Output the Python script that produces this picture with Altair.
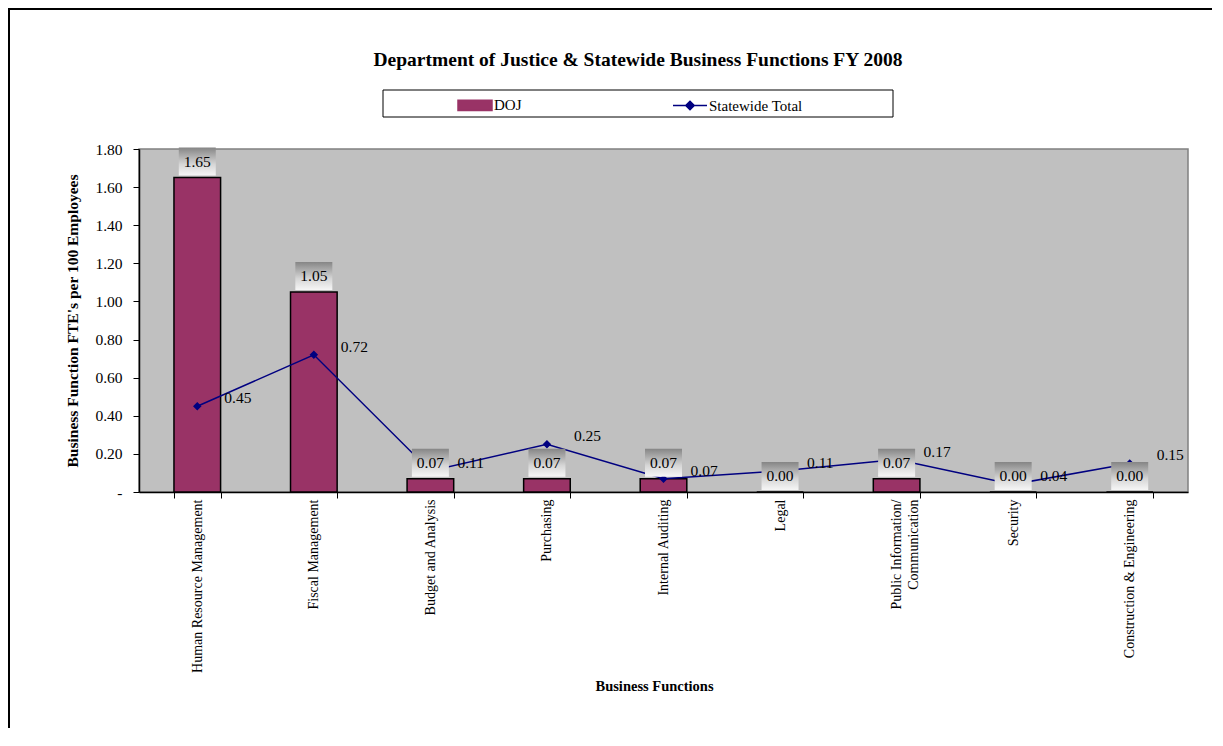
import altair as alt
import pandas as pd

categories = [
    "Human Resource Management",
    "Fiscal Management",
    "Budget and Analysis",
    "Purchasing",
    "Internal Auditing",
    "Legal",
    "Public Information/ Communication",
    "Security",
    "Construction & Engineering",
]
doj_values = [1.65, 1.05, 0.07, 0.07, 0.07, 0.00, 0.07, 0.00, 0.00]
statewide_values = [0.45, 0.72, 0.11, 0.25, 0.07, 0.11, 0.17, 0.04, 0.15]
series_names = ["DOJ", "Statewide Total"]
series_colors = ["#993366", "#000080"]
y_ticks = [0.0, 0.2, 0.4, 0.6, 0.8, 1.0, 1.2, 1.4, 1.6, 1.8]

title_text = "Department of Justice & Statewide Business Functions FY 2008"
FONT = "Liberation Serif"

doj_df = pd.DataFrame({"category": categories, "value": doj_values, "series": "DOJ"})
sw_df = pd.DataFrame({"category": categories, "value": statewide_values, "series": "Statewide Total"})
one = pd.DataFrame({"k": [0]})

W, H = 1049, 343

x_axis = alt.Axis(
    title="Business Functions",
    titleFont=FONT, titleFontSize=14.5, titleFontWeight="bold", titleColor="black",
    titleY=194, titleBaseline="middle", titleX=515,
    labelAngle=-90, labelFont=FONT, labelFontSize=14, labelColor="black",
    labelPadding=1, labelLimit=300, labelLineHeight=17, labelOverlap=False,
    labelExpr="datum.label == 'Public Information/ Communication' ? ['Public Information/', 'Communication'] : datum.label",
    tickBand="extent", tickColor="black", tickSize=6,
    domainColor="black", domainWidth=1.5,
)
x_scale = alt.Scale(paddingInner=0.6, paddingOuter=0.3)

y_scale = alt.Scale(domain=[0, 1.8], nice=False, zero=True)
y_axis = alt.Axis(
    title="Business Function FTE's per 100 Employees",
    titleFont=FONT, titleFontSize=15.5, titleFontWeight="bold", titleColor="black",
    titlePadding=14,
    values=y_ticks, tickCount=10, grid=False, labelOverlap=False,
    labelExpr="datum.value == 0 ? '-\u00a0\u00a0\u00a0\u00a0\u00a0\u00a0' : format(datum.value, '.2f')",
    labelFont=FONT, labelFontSize=15.5, labelColor="black", labelPadding=11,
    tickColor="black", tickSize=6, domainColor="black", domainWidth=1.5,
)


def X():
    return alt.X("category:N", sort=categories, scale=x_scale, axis=x_axis)


def Y():
    return alt.Y("value:Q", scale=y_scale, axis=y_axis)


color_scale = alt.Scale(domain=series_names, range=series_colors)
shape_scale = alt.Scale(
    domain=series_names,
    range=["M-1,-0.3H1V0.3H-1Z", "M-1,0H1M0,-0.25L0.25,0L0,0.25L-0.25,0Z"],
)

legend = alt.Legend(
    title=None, orient="none", legendX=318, legendY=-62, direction="horizontal",
    labelFont=FONT, labelFontSize=15, labelColor="black", labelOffset=1,
    symbolSize=1156, columnPadding=148, padding=0,
    symbolStrokeWidth=1.5,
)

border = alt.Chart(one).mark_rect(fill=None, stroke="black", strokeWidth=2).encode(
    x=alt.value(-130), x2=alt.value(1200), y=alt.value(-140), y2=alt.value(700)
)
legend_box = alt.Chart(one).mark_rect(fill="white", stroke="black", strokeWidth=1).encode(
    x=alt.value(244), x2=alt.value(754), y=alt.value(-59), y2=alt.value(-32)
)
title_mark = alt.Chart(one).mark_text(
    text=title_text, font=FONT, fontSize=19.5, fontWeight="bold", color="black",
    align="center", baseline="middle",
).encode(x=alt.value(499), y=alt.value(-89))

bars = alt.Chart(doj_df).mark_bar(stroke="black", strokeWidth=1.5).encode(
    x=X(),
    y=Y(),
    color=alt.Color("series:N", scale=color_scale, legend=legend),
)

line = alt.Chart(sw_df).mark_line(strokeWidth=1.5).encode(
    x=X(),
    y=Y(),
    color=alt.Color("series:N", scale=color_scale, legend=legend),
)

points = alt.Chart(sw_df).mark_point(filled=True, size=1156, opacity=1, strokeWidth=0).encode(
    x=X(),
    y=Y(),
    color=alt.Color("series:N", scale=color_scale, legend=legend),
    shape=alt.Shape("series:N", scale=shape_scale, legend=legend),
)

box_grad = alt.Gradient(
    gradient="linear", x1=0, y1=0, x2=0, y2=1,
    stops=[alt.GradientStop(offset=0, color="#858585"),
           alt.GradientStop(offset=0.6, color="#d6d6d6"),
           alt.GradientStop(offset=1, color="#f6f6f6")],
)
label_boxes = alt.Chart(doj_df).mark_bar(
    fill=box_grad, size=37, yOffset=-30, y2Offset=-2, strokeWidth=0
).encode(
    x=X(),
    y=Y(),
    y2=alt.Y2("value"),
)

doj_text = alt.Chart(doj_df).mark_text(
    font=FONT, fontSize=15.5, color="black", baseline="middle", align="center", dy=-16
).encode(
    x=X(),
    y=Y(),
    text=alt.Text("value:Q", format=".2f"),
)

sw_text = alt.Chart(sw_df).mark_text(
    font=FONT, fontSize=15.5, color="black", baseline="middle", align="left", dx=27, dy=-8
).encode(
    x=X(),
    y=Y(),
    text=alt.Text("value:Q", format=".2f"),
)

chart = alt.layer(
    border, legend_box, title_mark, bars, line, points, label_boxes, doj_text, sw_text
).resolve_scale(color="shared", shape="shared").properties(
    width=W, height=H,
    autosize=alt.AutoSizeParams(type="none"),
    padding={"left": 131, "top": 141, "right": 24, "bottom": 236},
).configure(
    background="white"
).configure_view(
    fill="#C0C0C0", stroke="#808080", strokeWidth=1.5
)

chart.save("out.html", embed_options={"renderer": "svg", "actions": False})
